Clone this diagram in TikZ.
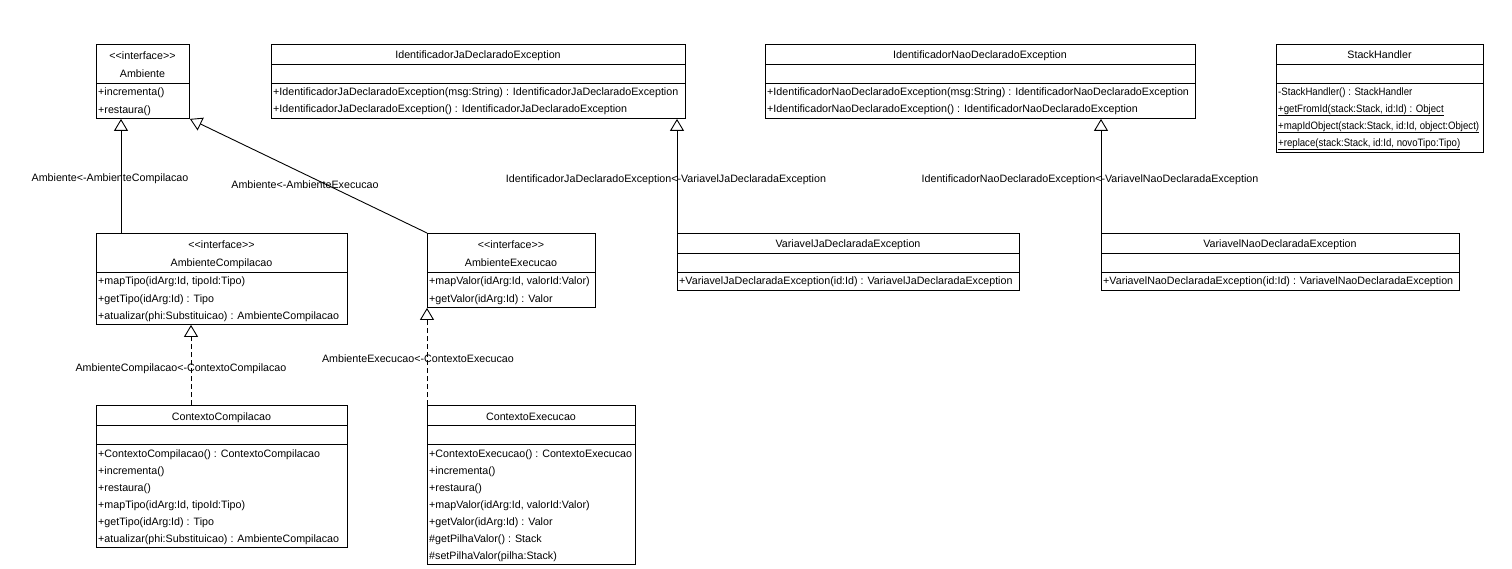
\documentclass[tikz,border=0pt]{standalone}
\usepackage{fontspec}
\setmainfont{Liberation Sans}[Ligatures=NoCommon]
\usetikzlibrary{arrows.meta}
\tikzset{
  cls/.style={draw, line width=0.9pt, fill=white, inner sep=0pt, anchor=north west},
  ttl/.style={inner sep=0pt, anchor=base},
  mth/.style={inner sep=0pt, anchor=base west},
  lbl/.style={inner sep=0pt, anchor=base},
  sep/.style={line width=0.9pt},
  uline/.style={line width=0.8pt},
  inh/.style={-{Triangle[open,length=12pt,width=14pt]}, line width=0.9pt},
  realz/.style={inh, dash pattern=on 5pt off 3pt},
}
\newcommand\stereo{<\kern0pt<interface>\kern0pt>}
\newcommand\narrow[1]{\scalebox{0.9}[1]{#1}}
\begin{document}
\begin{tikzpicture}[x=1pt,y=-1pt,font=\fontsize{10.7}{12}\selectfont]
\useasboundingbox (0,0) rectangle (1512,569);
\fill[white] (0,0) rectangle (1512,569);

% ---------- Ambiente ----------
\node[cls, minimum width=93, minimum height=74] (amb) at (96,44) {};
\node[ttl] (amb-s) at (142.5,60) {\stereo};
\node[ttl] (amb-n) at (142.5,78) {Ambiente};
\draw[sep] (amb.west |- 0,83) -- (amb.east |- 0,83);
\node[mth] (amb-m1) at (98,96) {+incrementa()};
\node[mth] (amb-m2) at (98,114) {+restaura()};

% ---------- AmbienteCompilacao ----------
\node[cls, minimum width=251, minimum height=91] (ambc) at (96,233) {};
\node[ttl] (ambc-s) at (221.5,249) {\stereo};
\node[ttl] (ambc-n) at (221.5,267) {AmbienteCompilacao};
\draw[sep] (ambc.west |- 0,272) -- (ambc.east |- 0,272);
\node[mth] (ambc-m1) at (98,285) {+mapTipo(idArg:Id, tipoId:Tipo)};
\node[mth] (ambc-m2) at (98,302) {+getTipo(idArg:Id) : Tipo};
\node[mth] (ambc-m3) at (98,319) {+atualizar(phi:Substituicao) : AmbienteCompilacao};

% ---------- AmbienteExecucao ----------
\node[cls, minimum width=168, minimum height=74] (ambe) at (427,233) {};
\node[ttl] (ambe-s) at (511,249) {\stereo};
\node[ttl] (ambe-n) at (511,267) {AmbienteExecucao};
\draw[sep] (ambe.west |- 0,272) -- (ambe.east |- 0,272);
\node[mth] (ambe-m1) at (429,285) {+mapValor(idArg:Id, valorId:Valor)};
\node[mth] (ambe-m2) at (429,302) {+getValor(idArg:Id) : Valor};

% ---------- ContextoCompilacao ----------
\node[cls, minimum width=251, minimum height=142] (ctxc) at (96,405) {};
\node[ttl] (ctxc-n) at (221.5,420) {ContextoCompilacao};
\draw[sep] (ctxc.west |- 0,425) -- (ctxc.east |- 0,425);
\draw[sep] (ctxc.west |- 0,444) -- (ctxc.east |- 0,444);
\node[mth] (ctxc-m1) at (98,457) {+ContextoCompilacao() : ContextoCompilacao};
\node[mth] (ctxc-m2) at (98,474) {+incrementa()};
\node[mth] (ctxc-m3) at (98,491) {+restaura()};
\node[mth] (ctxc-m4) at (98,508) {+mapTipo(idArg:Id, tipoId:Tipo)};
\node[mth] (ctxc-m5) at (98,525) {+getTipo(idArg:Id) : Tipo};
\node[mth] (ctxc-m6) at (98,542) {+atualizar(phi:Substituicao) : AmbienteCompilacao};

% ---------- ContextoExecucao ----------
\node[cls, minimum width=208, minimum height=159] (ctxe) at (427,405) {};
\node[ttl] (ctxe-n) at (531,420) {ContextoExecucao};
\draw[sep] (ctxe.west |- 0,425) -- (ctxe.east |- 0,425);
\draw[sep] (ctxe.west |- 0,444) -- (ctxe.east |- 0,444);
\node[mth] (ctxe-m1) at (429,457) {+ContextoExecucao() : ContextoExecucao};
\node[mth] (ctxe-m2) at (429,474) {+incrementa()};
\node[mth] (ctxe-m3) at (429,491) {+restaura()};
\node[mth] (ctxe-m4) at (429,508) {+mapValor(idArg:Id, valorId:Valor)};
\node[mth] (ctxe-m5) at (429,525) {+getValor(idArg:Id) : Valor};
\node[mth] (ctxe-m6) at (429,542) {\#getPilhaValor() : Stack};
\node[mth] (ctxe-m7) at (429,559) {\#setPilhaValor(pilha:Stack)};

% ---------- IdentificadorJaDeclaradoException ----------
\node[cls, minimum width=414, minimum height=74] (ija) at (271,44) {};
\node[ttl] (ija-n) at (478,59) {IdentificadorJaDeclaradoException};
\draw[sep] (ija.west |- 0,64) -- (ija.east |- 0,64);
\draw[sep] (ija.west |- 0,83) -- (ija.east |- 0,83);
\node[mth] (ija-m1) at (273,96) {+IdentificadorJaDeclaradoException(msg:String) : IdentificadorJaDeclaradoException};
\node[mth] (ija-m2) at (273,113) {+IdentificadorJaDeclaradoException() : IdentificadorJaDeclaradoException};

% ---------- IdentificadorNaoDeclaradoException ----------
\node[cls, minimum width=430, minimum height=74] (inao) at (765,44) {};
\node[ttl] (inao-n) at (980,59) {IdentificadorNaoDeclaradoException};
\draw[sep] (inao.west |- 0,64) -- (inao.east |- 0,64);
\draw[sep] (inao.west |- 0,83) -- (inao.east |- 0,83);
\node[mth] (inao-m1) at (767,96) {+IdentificadorNaoDeclaradoException(msg:String) : IdentificadorNaoDeclaradoException};
\node[mth] (inao-m2) at (767,113) {+IdentificadorNaoDeclaradoException() : IdentificadorNaoDeclaradoException};

% ---------- StackHandler ----------
\node[cls, minimum width=207, minimum height=108] (sh) at (1276,44) {};
\node[ttl] (sh-n) at (1379.5,59) {StackHandler};
\draw[sep] (sh.west |- 0,64) -- (sh.east |- 0,64);
\draw[sep] (sh.west |- 0,83) -- (sh.east |- 0,83);
\node[mth] (sh-m1) at (1278,96) {\narrow{-StackHandler() : StackHandler}};
\node[mth] (sh-m2) at (1278,113) {\narrow{+getFromId(stack:Stack, id:Id) : Object}};
\node[mth] (sh-m3) at (1278,130) {\narrow{+mapIdObject(stack:Stack, id:Id, object:Object)}};
\node[mth] (sh-m4) at (1278,147) {\narrow{+replace(stack:Stack, id:Id, novoTipo:Tipo)}};
\draw[uline] ([yshift=-2pt]sh-m2.base west) -- ([yshift=-2pt]sh-m2.base east);
\draw[uline] ([yshift=-2pt]sh-m3.base west) -- ([yshift=-2pt]sh-m3.base east);
\draw[uline] ([yshift=-2pt]sh-m4.base west) -- ([yshift=-2pt]sh-m4.base east);

% ---------- VariavelJaDeclaradaException ----------
\node[cls, minimum width=342, minimum height=57] (vja) at (677,233) {};
\node[ttl] (vja-n) at (848,248) {VariavelJaDeclaradaException};
\draw[sep] (vja.west |- 0,253) -- (vja.east |- 0,253);
\draw[sep] (vja.west |- 0,272) -- (vja.east |- 0,272);
\node[mth] (vja-m1) at (679,285) {+VariavelJaDeclaradaException(id:Id) : VariavelJaDeclaradaException};

% ---------- VariavelNaoDeclaradaException ----------
\node[cls, minimum width=358, minimum height=57] (vnao) at (1101,233) {};
\node[ttl] (vnao-n) at (1280,248) {VariavelNaoDeclaradaException};
\draw[sep] (vnao.west |- 0,253) -- (vnao.east |- 0,253);
\draw[sep] (vnao.west |- 0,272) -- (vnao.east |- 0,272);
\node[mth] (vnao-m1) at (1103,285) {+VariavelNaoDeclaradaException(id:Id) : VariavelNaoDeclaradaException};

% ---------- connectors ----------
\draw[inh] ([xshift=25pt]ambc.north west) -- ([xshift=25pt]amb.south west);
\draw[inh] (ambe.north west) -- (amb.south east);
\draw[realz] ([xshift=95pt]ctxc.north west) -- ([xshift=95pt]ambc.south west);
\draw[realz] (ctxe.north west) -- (ambe.south west);
\draw[inh] (vja.north west) -- (vja.north west |- ija.south);
\draw[inh] (vnao.north west) -- (vnao.north west |- inao.south);

% ---------- labels ----------
\node[lbl] (l1) at (110,182) {Ambiente<-AmbienteCompilacao};
\node[lbl] (l2) at (305,189) {Ambiente<-AmbienteExecucao};
\node[lbl] (l3) at (666,183) {IdentificadorJaDeclaradoException<-VariavelJaDeclaradaException};
\node[lbl] (l4) at (1090,183) {IdentificadorNaoDeclaradoException<-VariavelNaoDeclaradaException};
\node[lbl] (l5) at (181,371) {AmbienteCompilacao<-ContextoCompilacao};
\node[lbl] (l6) at (418,362) {AmbienteExecucao<-ContextoExecucao};
\end{tikzpicture}
\end{document}
